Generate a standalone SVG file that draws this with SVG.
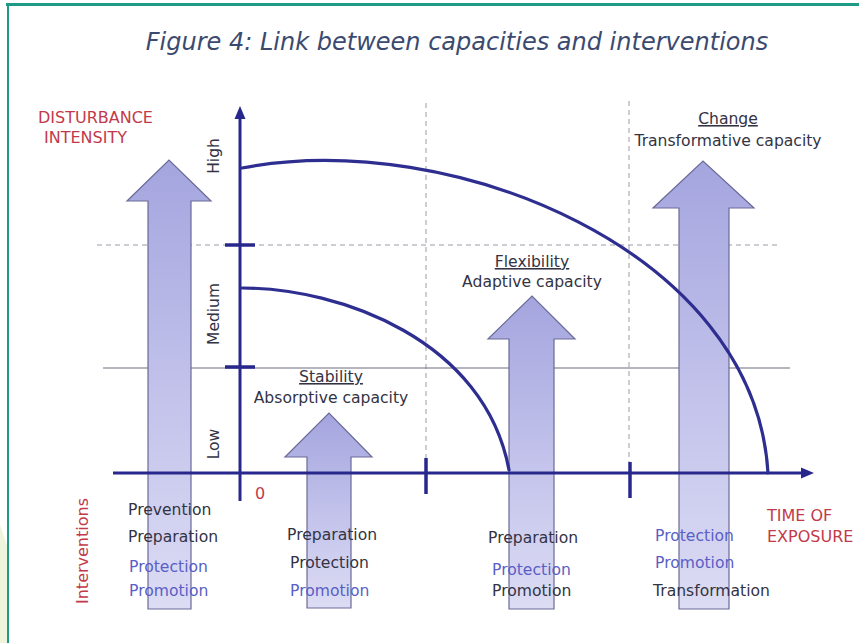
<svg xmlns="http://www.w3.org/2000/svg" width="859" height="643" viewBox="0 0 859 643">
  <defs>
    <style>
      text { font-family: "DejaVu Sans", Verdana, sans-serif; font-size: 15.6px; }
      .title { font-size: 24px; font-style: italic; fill: #3b4a6e; }
      .red { fill: #c23a4a; font-size: 16px; }
      .dark { fill: #333344; }
      .blue { fill: #5a5ec6; }
      .lvl { font-size: 15.5px; fill: #333344; }
      .mid { text-anchor: middle; }
      .ul { text-decoration: underline; }
      .axis { stroke: #28288c; stroke-width: 3; fill: none; }
      .tick { stroke: #28288c; stroke-width: 3.5; fill: none; }
      .curve { stroke: #2e2e90; stroke-width: 3.2; fill: none; stroke-linecap: round; }
      .dash { stroke: #9a9aa6; stroke-width: 1; stroke-dasharray: 5 4; fill: none; }
      .thin { stroke: #6a6c80; stroke-width: 1.2; fill: none; }
      .block { fill: url(#lav); stroke: #6a6a98; stroke-width: 1.2; }
    </style>
    <linearGradient id="lav" x1="0" y1="0" x2="0" y2="1">
      <stop offset="0" stop-color="#a4a5de"/>
      <stop offset="0.55" stop-color="#c4c4ec"/>
      <stop offset="1" stop-color="#dcdcf4"/>
    </linearGradient>
  </defs>

  <rect width="859" height="643" fill="#ffffff"/>

  <!-- page frame -->
  <g id="frame">
    <polygon points="0,525 8,548 8,643 0,643" fill="#eff4dc"/>
    <line x1="6" y1="4.5" x2="859" y2="4.5" stroke="#1f9a86" stroke-width="3"/>
    <line x1="8" y1="3" x2="8" y2="643" stroke="#1f9a86" stroke-width="2"/>
  </g>

  <text class="title mid" x="457" y="50">Figure 4: Link between capacities and interventions</text>

  <!-- guide lines -->
  <g id="guides">
    <line class="dash" x1="97" y1="245" x2="777" y2="245"/>
    <line class="dash" x1="426" y1="103" x2="426" y2="458"/>
    <line class="dash" x1="629" y1="101" x2="629" y2="462"/>
    <line class="thin" x1="103" y1="368" x2="790" y2="368"/>
  </g>

  <!-- capacity block arrows -->
  <g id="arrow-prevention">
    <polygon class="block" points="148,609 148,201 127,201 169,160 211,201 191,201 191,609"/>
  </g>
  <g id="arrow-stability">
    <polygon class="block" points="307,608 307,457 285,457 329,413 372,457 351,457 351,608"/>
  </g>
  <g id="arrow-flexibility">
    <polygon class="block" points="509,609 509,339 488,339 532,296 575,339 554,339 554,609"/>
  </g>
  <g id="arrow-change">
    <polygon class="block" points="679,609 679,208 653,208 703,161 754,208 729,208 729,609"/>
  </g>

  <!-- axes, ticks and capacity curves -->
  <g id="connectors">
    <line class="axis" x1="240" y1="501" x2="240" y2="116"/>
    <polygon points="240,106 234.5,119 245.5,119" fill="#28288c"/>
    <line class="axis" x1="113" y1="473" x2="802" y2="473"/>
    <polygon points="814,473 801,467.5 801,478.5" fill="#28288c"/>
    <line class="tick" x1="225" y1="245" x2="255" y2="245"/>
    <line class="tick" x1="225" y1="367" x2="255" y2="367"/>
    <line class="tick" x1="426" y1="458" x2="426" y2="494"/>
    <line class="tick" x1="630" y1="462" x2="630" y2="498"/>
    <path class="curve" d="M242,168 C450,128 755,250 768,473"/>
    <path class="curve" d="M242,288 C340,288 485,340 509,470"/>
  </g>

  <!-- axis labels -->
  <g id="axis-labels">
    <text class="red" x="38" y="123">DISTURBANCE</text>
    <text class="red" x="44" y="143">INTENSITY</text>
    <text class="lvl mid" transform="translate(219,156) rotate(-90)">High</text>
    <text class="lvl mid" transform="translate(219,314) rotate(-90)">Medium</text>
    <text class="lvl mid" transform="translate(219,444) rotate(-90)">Low</text>
    <text class="red" x="255" y="499">0</text>
    <text class="red mid" transform="translate(88,551) rotate(-90)">Interventions</text>
    <text class="red" x="767" y="521">TIME OF</text>
    <text class="red" x="767" y="542">EXPOSURE</text>
  </g>

  <!-- capacity headings -->
  <g id="label-stability">
    <text class="dark mid ul" x="331" y="382">Stability</text>
    <text class="dark mid" x="331" y="403">Absorptive capacity</text>
  </g>
  <g id="label-flexibility">
    <text class="dark mid ul" x="532" y="267">Flexibility</text>
    <text class="dark mid" x="532" y="287">Adaptive capacity</text>
  </g>
  <g id="label-change">
    <text class="dark mid ul" x="728" y="124">Change</text>
    <text class="dark mid" x="728" y="146">Transformative capacity</text>
  </g>

  <!-- interventions per stage -->
  <g id="interventions-1">
    <text class="dark" x="128" y="515">Prevention</text>
    <text class="dark" x="128" y="542">Preparation</text>
    <text class="blue" x="129" y="572">Protection</text>
    <text class="blue" x="129" y="596">Promotion</text>
  </g>
  <g id="interventions-2">
    <text class="dark" x="287" y="540">Preparation</text>
    <text class="dark" x="290" y="568">Protection</text>
    <text class="blue" x="290" y="596">Promotion</text>
  </g>
  <g id="interventions-3">
    <text class="dark" x="488" y="543">Preparation</text>
    <text class="blue" x="492" y="575">Protection</text>
    <text class="dark" x="492" y="596">Promotion</text>
  </g>
  <g id="interventions-4">
    <text class="blue" x="655" y="541">Protection</text>
    <text class="blue" x="655" y="568">Promotion</text>
    <text class="dark" x="653" y="596">Transformation</text>
  </g>
</svg>
